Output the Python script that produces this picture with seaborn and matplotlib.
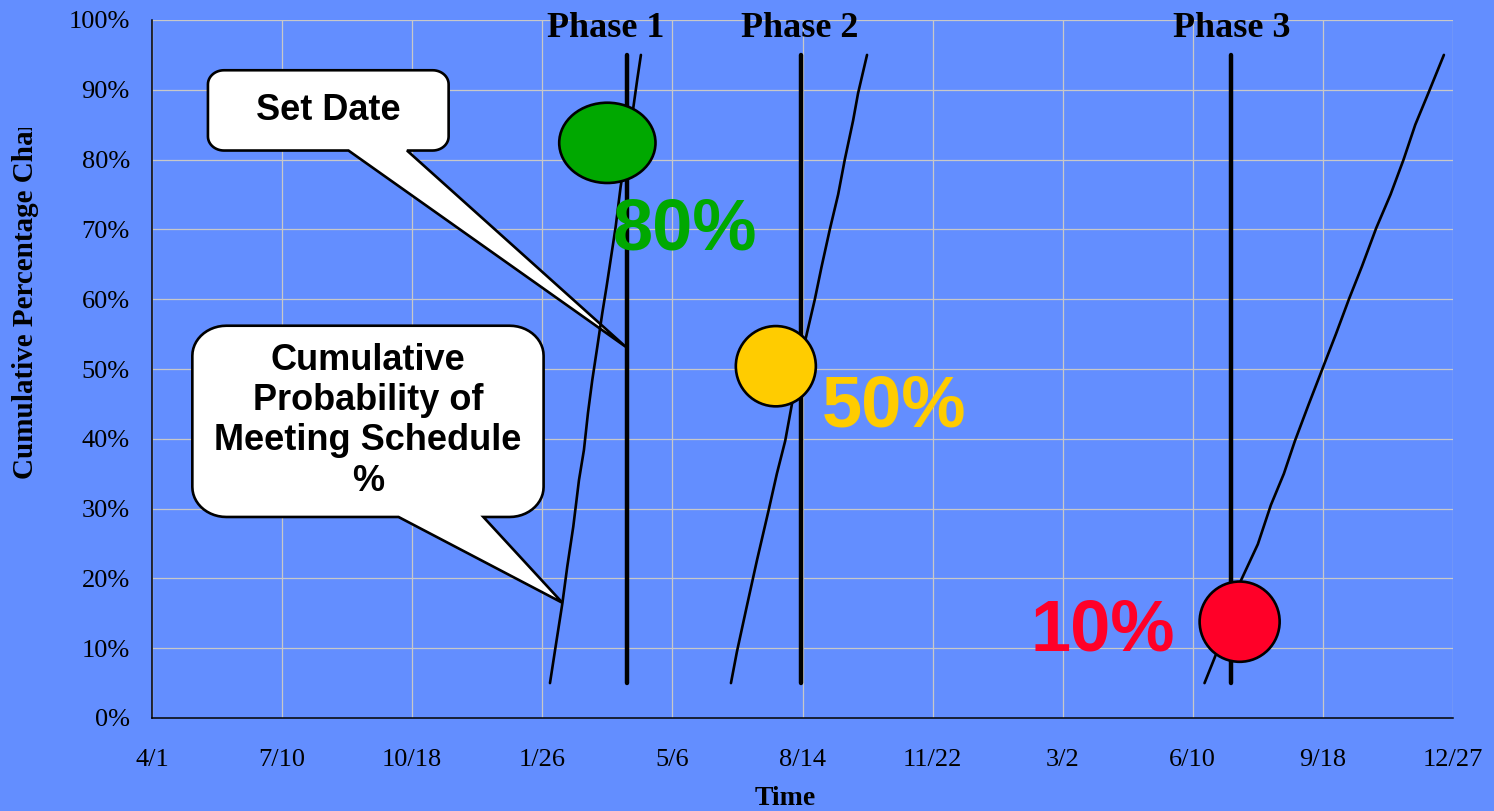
import numpy as np
import pandas as pd
import matplotlib
matplotlib.use("Agg")
import matplotlib.pyplot as plt
import seaborn as sns
from matplotlib.patches import Ellipse, Polygon
from matplotlib.transforms import Bbox, TransformedBbox

# ---------------- data ----------------
tick_days = [0, 100, 200, 300, 400, 500, 600, 700, 800, 900, 1000]
tick_labels = ["4/1", "7/10", "10/18", "1/26", "5/6", "8/14", "11/22",
               "3/2", "6/10", "9/18", "12/27"]
pct_ticks = [0, 10, 20, 30, 40, 50, 60, 70, 80, 90, 100]
pct_labels = ["0%", "10%", "20%", "30%", "40%", "50%", "60%", "70%",
              "80%", "90%", "100%"]

phases = ["Phase 1", "Phase 2", "Phase 3"]
set_dates = [365, 499, 829]          # vertical "set date" lines (days)
set_line_lo = [5, 5, 5]
set_line_hi = [95, 95, 95]

curve1_days = [305.9, 310.2, 315.4, 319.2, 323.8, 328.2, 332.0, 335.1, 338.4,
               342.3, 346.1, 349.4, 352.5, 356.4, 360.2, 365.0, 370.0, 373.0,
               375.8]
curve1_pct = [5.0, 10.2, 16.4, 21.7, 27.4, 34.1, 38.4, 43.7, 48.4, 53.2, 58.0,
              61.8, 65.6, 70.4, 76.1, 82.0, 87.5, 91.5, 95.0]
curve2_days = [445, 449.6, 457.3, 465, 474, 480.3, 486.7, 491.8, 497, 503,
               509.5, 514.6, 521, 527.4, 532.5, 538.9, 542.7, 549.6]
curve2_pct = [5, 9.5, 16.1, 22.6, 29.8, 35, 39.7, 44.9, 50.1, 54.8, 60, 64.6,
              70, 75, 80, 85.6, 89.5, 95]
curve3_days = [809, 818, 837, 850, 860, 870, 878.5, 889, 900, 910, 920, 930,
               941, 952, 962, 971, 981, 993]
curve3_pct = [5, 9.2, 19.7, 24.9, 30.5, 35, 39.7, 44.9, 50.2, 55, 60, 64.7,
              70.2, 75, 80, 85, 89.5, 95]

marker_days = [350, 479.5, 836]
marker_pct = [82.4, 50.4, 13.8]
chance_labels = ["80%", "50%", "10%"]
chance_label_days = [409.7, 570.3, 731]
chance_label_pct = [67.1, 41.8, 9.7]
phase_label_days = [349, 498, 830]
phase_label_pct = [97.6, 97.6, 97.6]

# ---------------- style ----------------
BG = "#638EFF"
chance_colors = ["#00A800", "#FFCC00", "#FF0028"]
ellipse_w = [74, 61.5, 61.5]
ellipse_h = [11.5, 11.5, 11.5]

sns.set_style("white", rc={"axes.facecolor": BG, "figure.facecolor": BG,
                           "grid.color": "#C8C8C8", "axes.edgecolor": "black",
                           "text.color": "black", "axes.labelcolor": "black",
                           "xtick.color": "black", "ytick.color": "black"})
plt.rcParams["font.family"] = ["Liberation Serif", "DejaVu Serif"]
plt.rcParams["text.color"] = "black"
SANS = ["Liberation Sans", "DejaVu Sans"]

fig = plt.figure(figsize=(14.94, 8.11), dpi=100)
fig.patch.set_facecolor(BG)
ax = fig.add_axes([152 / 1494, 93 / 811, 1301 / 1494, 698 / 811])
ax.set_facecolor(BG)
ax.set_xlim(0, 1000)
ax.set_ylim(0, 100)

# grid
ax.set_xticks(tick_days)
ax.set_xticklabels(tick_labels)
ax.set_yticks(pct_ticks)
ax.set_yticklabels(pct_labels)
ax.grid(True, color="#C8C8C8", linewidth=0.9, zorder=0)
ax.set_axisbelow(True)
for s in ["top", "right"]:
    ax.spines[s].set_visible(False)
for s in ["left", "bottom"]:
    ax.spines[s].set_linewidth(1.1)
    ax.spines[s].set_color("black")
ax.tick_params(axis="both", direction="out", length=7, width=1, colors="black",
               labelsize=19, labelcolor="black")
ax.tick_params(axis="x", pad=15)
ax.tick_params(axis="y", pad=9)

# ---------------- callouts ----------------
def bubble(box, base, tip, rx, ry):
    x0, x1, y0, y1 = box
    T = ax.transData
    X0, Y0 = T.transform((x0, y0))
    X1, Y1 = T.transform((x1, y1))
    BL = T.transform((base[0], y0))[0]
    BR = T.transform((base[1], y0))[0]
    TX, TY = T.transform(tip)
    pts = [(BR, Y0)]

    def arc(cx, cy, a0, a1):
        for a in np.linspace(np.radians(a0), np.radians(a1), 14):
            pts.append((cx + rx * np.cos(a), cy + ry * np.sin(a)))

    arc(X1 - rx, Y0 + ry, -90, 0)
    arc(X1 - rx, Y1 - ry, 0, 90)
    arc(X0 + rx, Y1 - ry, 90, 180)
    arc(X0 + rx, Y0 + ry, 180, 270)
    pts.append((BL, Y0))
    pts.append((TX, TY))
    dpts = T.inverted().transform(np.array(pts))
    poly = Polygon(dpts, closed=True, facecolor="white", edgecolor="black",
                   linewidth=1.9, joinstyle="miter", zorder=2)
    ax.add_patch(poly)

bubble((43, 228, 81.3, 92.8), (151, 196), (364, 53.2), 16, 14)
ax.text(135.5, 87.0, "Set Date", family=SANS, fontweight="bold", fontsize=26,
        color="black", ha="center", va="center", zorder=3)

bubble((31, 301, 28.8, 56.2), (189.5, 254.7), (315.5, 16.5), 34, 30)
ax.text(166, 42.6, "Cumulative\nProbability of\nMeeting Schedule\n%",
        family=SANS, fontweight="bold", fontsize=26, color="black",
        ha="center", va="center", linespacing=1.2, zorder=3)

# ---------------- curves ----------------
curves = pd.DataFrame({
    "phase": ["Phase 1"] * len(curve1_days) + ["Phase 2"] * len(curve2_days)
             + ["Phase 3"] * len(curve3_days),
    "day": curve1_days + curve2_days + curve3_days,
    "pct": curve1_pct + curve2_pct + curve3_pct,
})
sns.lineplot(data=curves, x="day", y="pct", hue="phase", units="phase",
             estimator=None, sort=False, palette=["black"] * 3, legend=False,
             linewidth=1.9, ax=ax, zorder=4)
for ln in ax.lines:
    ln.set_solid_capstyle("round")
    ln.set_solid_joinstyle("round")

ax.vlines(set_dates, set_line_lo, set_line_hi, colors="black", linewidth=3.2,
          zorder=5, capstyle="round")

# circles
for d, p, c, w, h in zip(marker_days, marker_pct, chance_colors, ellipse_w, ellipse_h):
    ax.add_patch(Ellipse((d, p), w, h, facecolor=c, edgecolor="black",
                         linewidth=1.9, zorder=6))

# probability labels
for d, p, t, c in zip(chance_label_days, chance_label_pct, chance_labels, chance_colors):
    ax.text(d, p, t, color=c, family=SANS, fontweight="bold", fontsize=52,
            ha="center", va="baseline", zorder=7)

# phase labels
for d, p, t in zip(phase_label_days, phase_label_pct, phases):
    ax.text(d, p, t, fontsize=26, fontweight="bold", color="black",
            ha="center", va="baseline", clip_on=False, zorder=7)

# axis labels
ax.set_xlabel("Time", fontsize=20, fontweight="bold", color="black")
ax.xaxis.set_label_coords((785.5 - 152) / 1301, (718 - 805) / 698)
ax.xaxis.label.set_va("baseline")

ax.set_ylabel("Cumulative Percentage Chance", fontsize=21, fontweight="bold",
              color="black")
ax.yaxis.set_label_coords((33 - 152) / 1301, (718 - 479) / 698)
ax.yaxis.label.set_ha("left")
ax.yaxis.label.set_va("baseline")
ax.yaxis.label.set_clip_box(TransformedBbox(Bbox([[0, 0], [1, (811 - 128) / 811]]),
                                            fig.transFigure))
ax.yaxis.label.set_clip_on(True)

fig.savefig("out.png", dpi=100, facecolor=BG)
